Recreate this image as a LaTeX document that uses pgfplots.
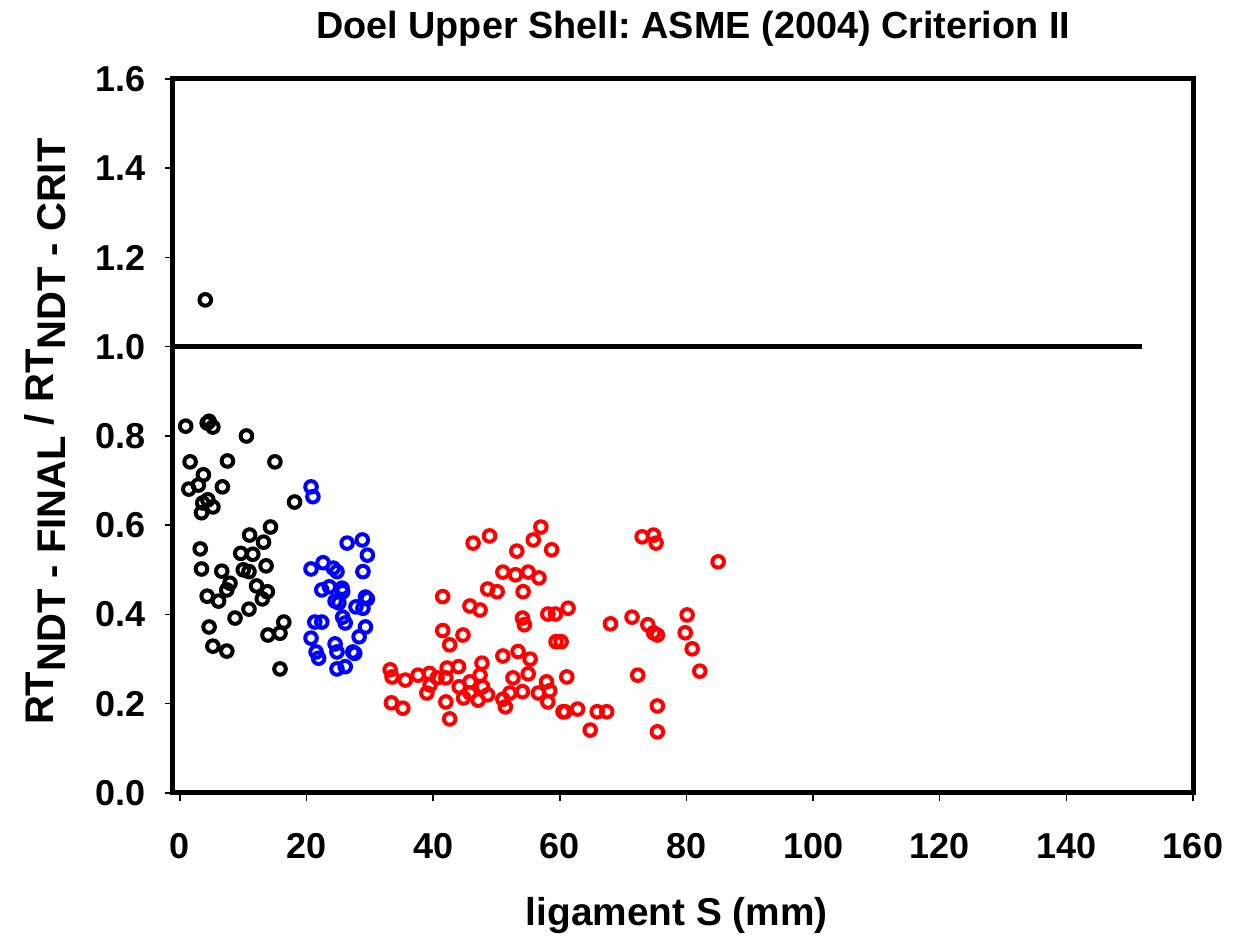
\documentclass[border=0pt]{standalone}
\usepackage{fontspec}
\setmainfont{Liberation Sans}
\usepackage{pgfplots}
\pgfplotsset{compat=1.18}
\frenchspacing

\newcommand{\sub}[1]{\raisebox{-0.3em}{#1}}

\begin{document}
\begin{tikzpicture}
\useasboundingbox (-86.5pt,-76pt) rectangle (532.5pt,396.5pt);
\begin{axis}[
  at={(0pt,0pt)}, anchor=south west,
  scale only axis, width=510pt, height=357pt,
  xmin=-1.1, xmax=160, ymin=0, ymax=1.6,
  xtick={0,20,...,160},
  ytick={0,0.2,0.4,0.6,0.8,1.0,1.2,1.4,1.6},
  xtick pos=bottom, ytick pos=left,
  tick align=outside,
  major tick length=4pt,
  tick style={line width=0.75pt, black},
  axis line style={line width=2.5pt},
  /pgf/number format/assume math mode=true,
  ticklabel style={font=\bfseries\fontsize{18}{20}\selectfont},
  xticklabel style={yshift=-12.5pt},
  yticklabel style={xshift=-6pt,
    /pgf/number format/fixed,
    /pgf/number format/fixed zerofill,
    /pgf/number format/precision=1},
  title={Doel Upper Shell: ASME (2004) Criterion II},
  title style={font=\bfseries\fontsize{18.9}{20}\selectfont, at={(axis description cs:0.51,1.073)}, anchor=center, yshift=-7pt},
  xlabel={ligament S (mm)},
  xlabel style={font=\bfseries\fontsize{19.4}{20}\selectfont, at={(axis description cs:0.494,-0.171)}, anchor=center},
  ylabel={RT\sub{NDT - FINAL} / RT\sub{NDT - CRIT}},
  ylabel style={font=\bfseries\fontsize{20}{20}\selectfont, at={(axis description cs:-0.1255,0.506)}, anchor=center},
  clip=false,
]
% criterion limit
\addplot[black, line width=2.5pt, no marks] coordinates {(-1.1,1) (152,1)};

% ligament group 1
\addplot[only marks, mark=o, mark size=2.9pt, black, mark options={line width=2pt}] coordinates {
(4.0,1.105) (0.9,0.822) (4.3,0.829) (4.6,0.833) (5.2,0.820) (10.5,0.800)
(1.6,0.742) (7.5,0.744) (15.0,0.742) (3.7,0.713) (2.9,0.690) (1.4,0.681)
(6.7,0.686) (3.6,0.650) (4.4,0.657) (5.2,0.641) (3.4,0.628) (18.1,0.652)
(14.3,0.596) (11.0,0.578) (13.2,0.562) (3.2,0.547) (9.6,0.537) (11.5,0.535)
(3.4,0.502) (6.6,0.497) (10.0,0.500) (10.9,0.496) (13.6,0.509) (7.9,0.470)
(7.4,0.455) (12.1,0.464) (13.8,0.451) (4.3,0.441) (6.1,0.430) (13.0,0.435)
(10.9,0.412) (8.7,0.392) (4.6,0.372) (16.4,0.383) (15.8,0.358) (13.9,0.354)
(5.2,0.329) (7.4,0.318) (15.8,0.278)
};

% ligament group 2
\addplot[only marks, mark=o, mark size=2.9pt, blue, mark options={line width=2pt}] coordinates {
(20.7,0.686) (21.0,0.664) (26.4,0.560) (28.8,0.567) (29.6,0.533) (20.7,0.502)
(22.6,0.516) (24.2,0.504) (24.8,0.496) (28.9,0.496) (22.4,0.455) (23.6,0.462)
(25.6,0.459) (25.7,0.451) (29.3,0.439) (29.6,0.435) (24.5,0.430) (25.1,0.426)
(27.8,0.417) (28.9,0.414) (25.7,0.394) (26.1,0.381) (21.3,0.383) (22.4,0.383)
(29.3,0.372) (28.3,0.350) (20.7,0.347) (24.5,0.334) (21.5,0.316) (21.9,0.302)
(24.8,0.316) (27.3,0.316) (27.6,0.313) (24.8,0.278) (26.1,0.283)
};

% ligament group 3
\addplot[only marks, mark=o, mark size=2.9pt, red, mark options={line width=2pt}] coordinates {
(46.3,0.560) (48.9,0.576) (53.2,0.542) (55.8,0.567) (57.0,0.596) (58.7,0.545)
(51.0,0.495) (53.0,0.489) (55.0,0.495) (56.7,0.482) (48.6,0.457) (50.1,0.451)
(54.2,0.451) (41.5,0.440) (45.8,0.419) (47.4,0.410) (54.1,0.392) (54.4,0.377)
(58.1,0.401) (59.3,0.401) (61.3,0.414) (41.5,0.364) (44.7,0.354) (42.6,0.332)
(59.4,0.339) (60.2,0.339) (51.0,0.307) (53.4,0.317) (55.3,0.300) (47.7,0.291)
(33.2,0.276) (33.5,0.260) (35.6,0.253) (37.6,0.264) (39.4,0.268) (42.2,0.280)
(44.0,0.283) (40.6,0.258) (39.5,0.242) (39.0,0.224) (42.0,0.258) (45.8,0.249)
(44.1,0.238) (47.4,0.264) (47.8,0.238) (45.8,0.224) (48.6,0.220) (44.8,0.213)
(47.1,0.208) (42.0,0.204) (33.4,0.202) (35.2,0.190) (42.6,0.166) (52.6,0.258)
(55.0,0.267) (54.1,0.227) (52.1,0.224) (51.0,0.210) (51.4,0.193) (56.6,0.224)
(57.9,0.249) (58.4,0.229) (58.1,0.204) (60.5,0.182) (61.1,0.260) (73.0,0.574)
(74.8,0.578) (75.2,0.560) (85.0,0.518) (68.0,0.379) (71.4,0.394) (73.9,0.377)
(74.8,0.359) (75.4,0.354) (80.1,0.399) (79.8,0.359) (80.9,0.323) (82.1,0.273)
(72.3,0.264) (75.4,0.195) (75.4,0.137) (60.8,0.182) (62.8,0.188) (65.9,0.182)
(67.4,0.182) (64.8,0.141)
};
\end{axis}
\end{tikzpicture}
\end{document}
